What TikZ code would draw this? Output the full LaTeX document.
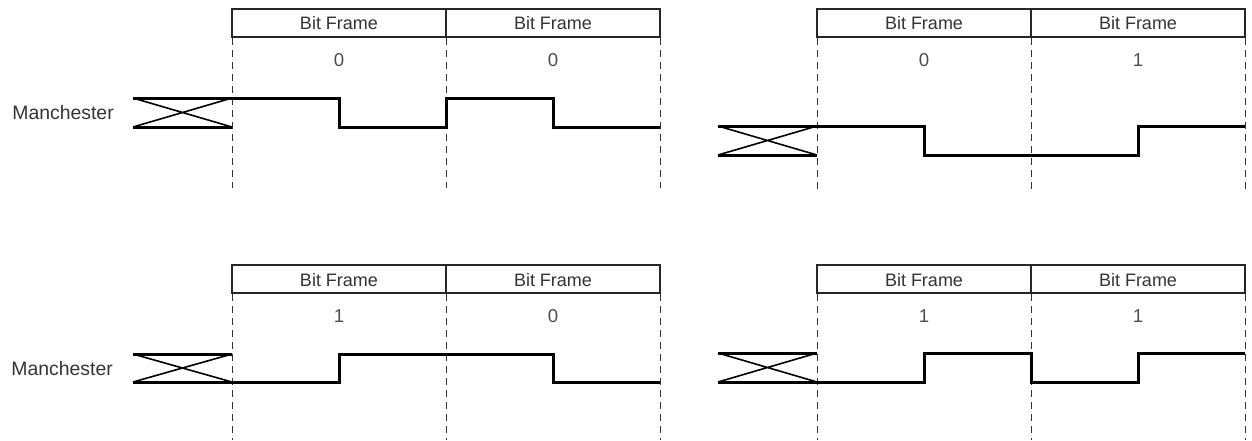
\documentclass[tikz,border=0pt]{standalone}
\usepackage{fontspec}
\setmainfont{Liberation Sans}
\begin{document}
\begin{tikzpicture}[x=0.5pt,y=-0.5pt,
  frame/.style={draw=black!85,line width=0.55pt},
  guide/.style={draw=black!80,line width=0.5pt,dash pattern=on 3.5pt off 2.5pt},
  sig/.style={draw=black,line width=1.5pt,line join=miter},
  cross/.style={draw=black,line width=0.8pt},
  lbl/.style={font=\fontsize{9}{10}\selectfont,text=black!80,inner sep=0pt},
  sidelbl/.style={font=\fontsize{9.7}{11}\selectfont,text=black!80,inner sep=0pt},
  bitlbl/.style={font=\fontsize{9.3}{10}\selectfont,text=black!70,inner sep=0pt}]
\useasboundingbox (0,0) rectangle (1252,440);
% ---------- top left ----------
\draw[frame] (232,9) rectangle (660,37);
\draw[frame] (446,9) -- (446,37);
\node[lbl] (tlf1) at (339,23) {Bit Frame};
\node[lbl] (tlf2) at (553,23) {Bit Frame};
\node[bitlbl] (tlb1) at (339,60) {0};
\node[bitlbl] (tlb2) at (553,60) {0};
\foreach \x in {232,446,660} \draw[guide] (\x,38) -- (\x,188);
\node[sidelbl,anchor=west] (tlm) at (12,113) {Manchester};
\draw[cross] (133,98) -- (232,127) (133,127) -- (232,98);
\draw[sig] (133,98) -- (232,98) (133,127) -- (232,127);
\draw[sig] (232,98) -- (339,98) -- (339,127) -- (446,127) -- (446,98) -- (553,98) -- (553,127) -- (660,127);
% ---------- top right ----------
\draw[frame] (817,9) rectangle (1245,37);
\draw[frame] (1031,9) -- (1031,37);
\node[lbl] (trf1) at (924,23) {Bit Frame};
\node[lbl] (trf2) at (1138,23) {Bit Frame};
\node[bitlbl] (trb1) at (924,60) {0};
\node[bitlbl] (trb2) at (1138,60) {1};
\foreach \x in {817,1031,1245} \draw[guide] (\x,38) -- (\x,190);
\draw[cross] (718,126) -- (817,155) (718,155) -- (817,126);
\draw[sig] (718,126) -- (817,126) (718,155) -- (817,155);
\draw[sig] (817,126) -- (924,126) -- (924,155) -- (1138,155) -- (1138,126) -- (1245,126);
% ---------- bottom left ----------
\draw[frame] (232,265) rectangle (660,293);
\draw[frame] (446,265) -- (446,293);
\node[lbl] (blf1) at (339,280) {Bit Frame};
\node[lbl] (blf2) at (553,280) {Bit Frame};
\node[bitlbl] (blb1) at (339,316) {1};
\node[bitlbl] (blb2) at (553,316) {0};
\foreach \x in {232,446,660} \draw[guide] (\x,294) -- (\x,440);
\node[sidelbl,anchor=west] (blm) at (11,369) {Manchester};
\draw[cross] (133,354) -- (232,382) (133,382) -- (232,354);
\draw[sig] (133,354) -- (232,354) (133,382) -- (232,382);
\draw[sig] (232,382) -- (339,382) -- (339,354) -- (553,354) -- (553,382) -- (660,382);
% ---------- bottom right ----------
\draw[frame] (817,265) rectangle (1245,293);
\draw[frame] (1031,265) -- (1031,293);
\node[lbl] (brf1) at (924,280) {Bit Frame};
\node[lbl] (brf2) at (1138,280) {Bit Frame};
\node[bitlbl] (brb1) at (924,316) {1};
\node[bitlbl] (brb2) at (1138,316) {1};
\foreach \x in {817,1031,1245} \draw[guide] (\x,294) -- (\x,440);
\draw[cross] (718,353) -- (817,382) (718,382) -- (817,353);
\draw[sig] (718,353) -- (817,353) (718,382) -- (817,382);
\draw[sig] (817,382) -- (924,382) -- (924,353) -- (1031,353) -- (1031,382) -- (1138,382) -- (1138,353) -- (1245,353);
\end{tikzpicture}
\end{document}
